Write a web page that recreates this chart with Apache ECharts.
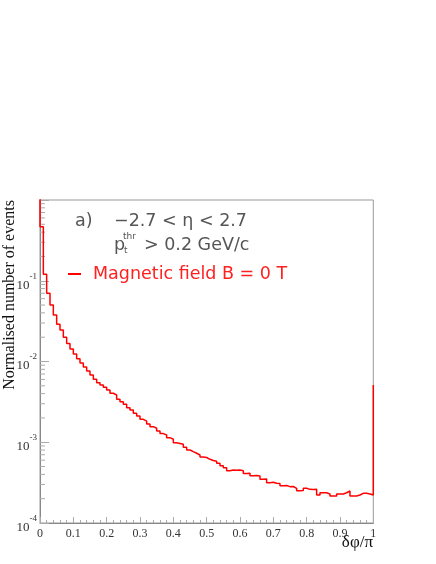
<!DOCTYPE html>
<html>
<head>
<meta charset="utf-8">
<script src="https://cdn.jsdelivr.net/npm/echarts@6/dist/echarts.min.js"></script>
<style>
html,body{margin:0;padding:0;background:#fff;}
#chart{width:436px;height:564px;}
</style>
</head>
<body>
<div id="chart"></div>
<script>
// ---- data ----
const binEdges = Array.from({length: 101}, (_, i) => +(i / 100).toFixed(2)); // δφ/π bin edges
const binValues = [
  0.467, 0.120, 0.0700, 0.0501, 0.0377, 0.0289, 0.0245, 0.0199, 0.0167, 0.0143,
  0.0124, 0.0108, 0.00958, 0.00855, 0.00763, 0.00681, 0.00602, 0.00546, 0.00512, 0.00479,
  0.00444, 0.00404, 0.00385, 0.00340, 0.00318, 0.00295, 0.00268, 0.00251, 0.00228, 0.00211,
  0.00192, 0.00183, 0.00168, 0.00156, 0.00149, 0.00138, 0.00128, 0.00123, 0.00114, 0.00109,
  0.000986, 0.000966, 0.000944, 0.000866, 0.000802, 0.000764, 0.000730, 0.000695, 0.000656, 0.000647,
  0.000615, 0.000594, 0.000581, 0.000548, 0.000513, 0.000484, 0.000444, 0.000453, 0.000449, 0.000453,
  0.000444, 0.000410, 0.000412, 0.000385, 0.000387, 0.000382, 0.000348, 0.000351, 0.000316, 0.000319,
  0.000310, 0.000309, 0.000290, 0.000291, 0.000282, 0.000283, 0.000269, 0.000251, 0.000252, 0.000269,
  0.000261, 0.000260, 0.000261, 0.000222, 0.000237, 0.000237, 0.000229, 0.000216, 0.000216, 0.000229,
  0.000229, 0.000237, 0.000249, 0.000216, 0.000216, 0.000222, 0.000233, 0.000233, 0.000229, 0.000222
];
const underflowValue = 2.0;   // clipped above the frame at δφ = 0
const overflowValue = 0.0051; // value reached by the closing edge at δφ = π
const xTickLabels = ['0', '0.1', '0.2', '0.3', '0.4', '0.5', '0.6', '0.7', '0.8', '0.9', '1'];
const yDecades = [-4, -3, -2, -1, 0];
const yMinorMultipliers = [2, 3, 4, 5, 6, 7, 8, 9];
const seriesName = 'Magnetic field B = 0 T';

// ---- build step outline ----
const stepData = [[binEdges[0], underflowValue]];
for (let i = 0; i < binValues.length; i++) stepData.push([binEdges[i], binValues[i]]);
stepData.push([binEdges[binEdges.length - 1], overflowValue]);

const minorTickData = [];
for (let k = 0; k < yDecades.length - 1; k++) {
  for (const m of yMinorMultipliers) minorTickData.push([0, m * Math.pow(10, yDecades[k])]);
}

const chart = echarts.init(document.getElementById('chart'), null, {renderer: 'canvas'});
const serif = 'Liberation Serif';
const sansFont = '"DejaVu Sans"';

chart.setOption({
  animation: false,
  backgroundColor: '#ffffff',
  grid: {left: 40, top: 200, width: 333.3, height: 323, show: true, borderColor: '#999', borderWidth: 1, backgroundColor: 'transparent'},
  legend: {
    data: [seriesName], left: 63, top: 260, icon: 'rect', itemWidth: 13, itemHeight: 2,
    textStyle: {color: '#ff2020', fontSize: 17.5, fontFamily: 'DejaVu Sans', padding: [0, 0, 0, 7]}
  },
  xAxis: {
    type: 'value', min: 0, max: 1, interval: 0.1,
    axisLine: {show: true, lineStyle: {color: '#888', width: 1}},
    axisTick: {show: true, inside: true, length: 6, lineStyle: {color: '#aaa'}},
    minorTick: {show: true, splitNumber: 5, length: 3, lineStyle: {color: '#aaa'}},
    splitLine: {show: false},
    axisLabel: {
      color: '#333', fontFamily: serif, fontSize: 12, margin: 5,
      formatter: (v) => xTickLabels[Math.round(v * 10)]
    }
  },
  yAxis: {
    type: 'log', logBase: 10, min: 1e-4, max: 1, splitNumber: 4,
    axisLine: {show: true, lineStyle: {color: '#888', width: 1}},
    axisTick: {show: true, inside: true, length: 9, lineStyle: {color: '#aaa'}},
    splitLine: {show: false},
    axisLabel: {
      margin: 3,
      formatter: (v) => {
        const e = Math.round(Math.log10(v));
        if (e === 0) return '';
        return '{a|10}{b|' + e + '}';
      },
      rich: {
        a: {fontFamily: serif, fontSize: 13, color: '#333', lineHeight: 18, verticalAlign: 'bottom', padding: [0, 0, -2, 0]},
        b: {fontFamily: serif, fontSize: 9, color: '#333', lineHeight: 18, verticalAlign: 'top'}
      }
    }
  },
  series: [
    {
      name: seriesName, type: 'line', step: 'end', data: stepData,
      showSymbol: false, symbol: 'none', clip: true,
      lineStyle: {color: '#ff0000', width: 1.5}, itemStyle: {color: '#ff0000'}
    },
    {
      type: 'custom', silent: true, clip: true, data: minorTickData,
      renderItem: (params, api) => {
        const p = api.coord([api.value(0), api.value(1)]);
        return {type: 'line', shape: {x1: p[0], y1: p[1], x2: p[0] + 5, y2: p[1]}, style: {stroke: '#aaa', lineWidth: 1}};
      }
    }
  ],
  graphic: [
    {type: 'text', x: 10, y: 200, rotation: Math.PI / 2,
     style: {text: 'Normalised number of events', font: '16px "Liberation Serif"', fill: '#111', align: 'right', verticalAlign: 'middle'}},
    {type: 'text', x: 373, y: 543,
     style: {text: 'δφ/π', font: '17px "Liberation Serif"', fill: '#111', align: 'right', verticalAlign: 'middle'}},
    {type: 'text', x: 75, y: 221,
     style: {text: 'a)', font: '17.5px ' + sansFont, fill: '#555', align: 'left', verticalAlign: 'middle'}},
    {type: 'text', x: 114, y: 221,
     style: {text: '−2.7 < η < 2.7', font: '17.5px ' + sansFont, fill: '#555', align: 'left', verticalAlign: 'middle'}},
    {type: 'text', x: 114, y: 245,
     style: {text: 'p', font: '17.5px ' + sansFont, fill: '#555', align: 'left', verticalAlign: 'middle'}},
    {type: 'text', x: 124, y: 251,
     style: {text: 't', font: '9px ' + sansFont, fill: '#555', align: 'left', verticalAlign: 'middle'}},
    {type: 'text', x: 123, y: 237,
     style: {text: 'thr', font: '9px ' + sansFont, fill: '#555', align: 'left', verticalAlign: 'middle'}},
    {type: 'text', x: 144, y: 245,
     style: {text: '> 0.2 GeV/c', font: '17.5px ' + sansFont, fill: '#555', align: 'left', verticalAlign: 'middle'}}
  ]
});
</script>
</body>
</html>
